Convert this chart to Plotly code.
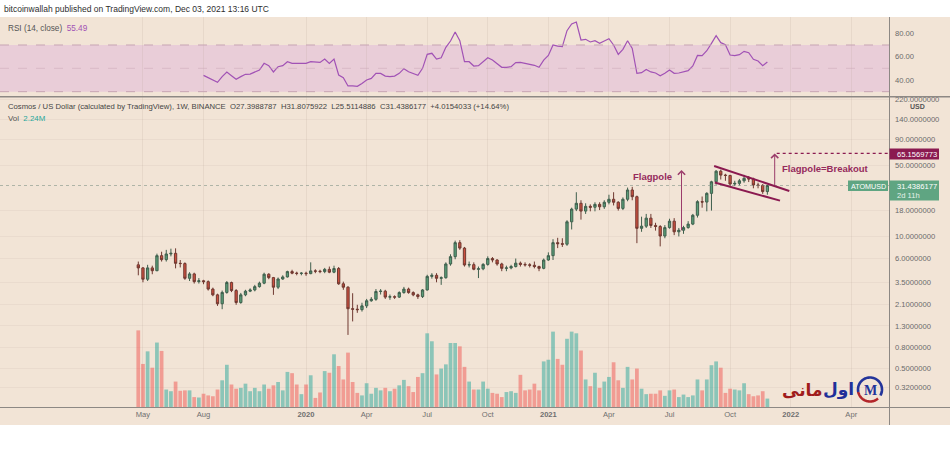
import numpy as np
import pandas as pd
import plotly.graph_objects as go

# ---------------- data (weekly ATOMUSD, BINANCE) ----------------
START_DATE = "2019-04-29"
N_BARS = 136
dates = pd.date_range(START_DATE, periods=N_BARS, freq="7D")

opens = [5.2, 4.85, 3.75, 4.85, 4.55, 6.4, 5.85, 6.65, 6.75, 5.38,
         5.35, 3.83, 4.23, 3.55, 3.62, 3.55, 3.0, 2.63, 2.15, 2.78,
         3.48, 2.9, 2.21, 2.63, 2.86, 2.94, 3.17, 3.43, 4.2, 3.89,
         3.13, 3.77, 3.95, 4.46, 4.3, 4.28, 4.3, 4.26, 4.53, 4.5,
         4.46, 4.69, 4.4, 4.78, 3.38, 3.13, 1.92, 1.9, 1.88, 2.05,
         2.3, 2.38, 2.84, 2.86, 2.5, 2.52, 2.5, 2.77, 3.0, 2.77,
         2.63, 2.53, 2.94, 4.0, 4.1, 3.83, 3.88, 5.3, 6.26, 8.6,
         7.6, 5.18, 5.22, 4.7, 4.75, 5.25, 6.0, 5.8, 5.3, 4.8,
         4.85, 5.0, 5.4, 5.25, 5.2, 5.15, 5.0, 4.8, 5.8, 6.4,
         8.6, 8.4, 8.3, 13.8, 18.4, 21.0, 17.6, 19.6, 19.2, 20.5,
         19.4, 21.5, 23.0, 21.5, 18.7, 23.0, 28.4, 24.4, 11.9, 12.5,
         15.0, 12.7, 12.4, 10.0, 12.1, 14.0, 11.0, 11.4, 12.1, 13.1,
         16.0, 21.8, 21.6, 26.3, 34.2, 43.5, 39.8, 39.5, 32.5, 33.0,
         35.0, 37.0, 36.5, 31.8, 31.5, 27.3988787]

highs = [5.6, 4.95, 5.2, 5.1, 6.7, 7.0, 7.3, 7.5, 7.56, 5.8,
         5.5, 4.4, 4.35, 3.85, 3.7, 3.65, 3.1, 2.7, 2.9, 3.6,
         3.55, 3.0, 2.75, 2.95, 3.05, 3.3, 3.55, 4.35, 4.3, 3.95,
         3.9, 4.1, 4.55, 4.65, 4.45, 4.4, 4.45, 5.5, 4.7, 4.65,
         4.85, 5.0, 5.1, 4.95, 3.55, 3.2, 2.73, 2.1, 2.2, 2.4,
         2.5, 3.0, 3.0, 2.95, 2.65, 2.6, 2.85, 3.15, 3.1, 2.85,
         2.7, 3.0, 4.15, 4.3, 4.3, 4.0, 5.5, 6.6, 9.0, 9.1,
         7.8, 5.6, 5.5, 5.0, 5.4, 6.3, 6.2, 5.9, 5.45, 5.1,
         5.2, 6.0, 5.6, 5.5, 5.4, 5.6, 5.1, 6.0, 6.9, 9.3,
         9.6, 9.5, 14.3, 19.0, 27.0, 22.5, 21.0, 20.5, 21.5, 21.5,
         22.5, 25.5, 27.0, 22.0, 24.0, 30.0, 30.5, 25.0, 15.5, 16.5,
         16.5, 13.5, 12.8, 12.8, 14.8, 15.0, 12.0, 12.6, 14.0, 16.5,
         22.5, 24.5, 27.0, 35.0, 44.6, 45.0, 41.0, 40.0, 35.0, 36.5,
         40.0, 39.0, 37.5, 33.5, 32.5, 31.8075922]

lows = [4.1, 3.5, 3.6, 4.2, 4.5, 5.6, 5.6, 6.3, 4.8, 4.9,
        3.7, 3.6, 3.4, 3.4, 3.35, 2.9, 2.55, 2.05, 1.9, 2.7,
        2.8, 2.1, 2.15, 2.55, 2.8, 2.85, 3.1, 3.35, 3.75, 2.63,
        3.0, 3.7, 3.9, 4.2, 4.1, 4.1, 4.05, 4.2, 4.3, 4.3,
        4.3, 4.3, 4.3, 3.3, 2.95, 1.06, 1.44, 1.75, 1.8, 1.95,
        2.25, 2.3, 2.65, 2.4, 2.35, 2.4, 2.45, 2.7, 2.7, 2.55,
        2.4, 2.45, 2.9, 3.8, 3.5, 3.3, 3.8, 5.1, 5.9, 7.3,
        5.0, 4.9, 4.6, 3.85, 4.6, 5.1, 5.5, 5.1, 4.5, 4.5,
        4.7, 4.9, 5.0, 5.0, 4.9, 4.8, 4.5, 4.7, 5.7, 5.8,
        7.6, 7.8, 8.0, 11.6, 17.6, 14.5, 16.5, 17.5, 17.5, 18.0,
        18.5, 20.5, 20.0, 17.8, 18.0, 22.0, 22.5, 8.5, 11.0, 12.0,
        12.0, 11.3, 7.9, 9.5, 11.8, 10.2, 9.9, 10.5, 11.8, 12.8,
        15.2, 19.0, 17.5, 17.8, 32.0, 36.0, 35.0, 30.6, 31.0, 31.5,
        33.5, 34.0, 29.5, 29.5, 26.0, 25.5114886]

closes = [4.85, 3.75, 4.85, 4.55, 6.4, 5.85, 6.65, 6.75, 5.38, 5.35,
          3.83, 4.23, 3.55, 3.62, 3.55, 3.0, 2.63, 2.15, 2.78, 3.48,
          2.9, 2.21, 2.63, 2.86, 2.94, 3.17, 3.43, 4.2, 3.89, 3.13,
          3.77, 3.95, 4.46, 4.3, 4.28, 4.3, 4.26, 4.53, 4.5, 4.46,
          4.69, 4.4, 4.78, 3.38, 3.13, 1.92, 1.9, 1.88, 2.05, 2.3,
          2.38, 2.84, 2.86, 2.5, 2.52, 2.5, 2.77, 3.0, 2.77, 2.63,
          2.53, 2.94, 4.0, 4.1, 3.83, 3.88, 5.3, 6.26, 8.6, 7.6,
          5.18, 5.22, 4.7, 4.75, 5.25, 6.0, 5.8, 5.3, 4.8, 4.85,
          5.0, 5.4, 5.25, 5.2, 5.15, 5.0, 4.8, 5.8, 6.4, 8.6,
          8.4, 8.3, 13.8, 18.4, 21.0, 17.6, 19.6, 19.2, 20.5, 19.4,
          21.5, 23.0, 21.5, 18.7, 23.0, 28.4, 24.4, 11.9, 12.5, 15.0,
          12.7, 12.4, 10.0, 12.1, 14.0, 11.0, 11.4, 12.1, 13.1, 16.0,
          21.8, 21.6, 26.3, 34.2, 43.5, 39.8, 39.5, 32.5, 33.0, 35.0,
          37.0, 36.5, 31.8, 31.5, 27.4, 31.4386177]

volume_m = [18.5, 10.5, 13.5, 9.6, 15.6, 13.6, 4.4, 4.0, 6.3, 4.1,
            4.2, 4.2, 2.6, 2.5, 3.4, 3.0, 2.8, 4.4, 6.6, 10.3,
            5.6, 4.6, 4.8, 5.8, 4.0, 4.8, 4.0, 5.6, 4.6, 5.4,
            6.2, 4.2, 8.6, 8.3, 5.6, 3.3, 5.6, 7.8, 2.4, 3.7,
            8.8, 8.4, 12.8, 10.0, 6.8, 13.2, 6.2, 3.6, 3.0, 5.9,
            3.4, 4.8, 4.2, 4.8, 4.0, 4.6, 5.4, 6.7, 5.2, 3.8,
            7.4, 8.3, 17.8, 15.9, 8.0, 9.4, 10.4, 15.5, 15.5, 14.7,
            9.8, 6.3, 4.4, 4.4, 6.3, 4.6, 3.6, 3.4, 2.6, 3.8,
            4.0, 3.6, 7.9, 4.2, 4.4, 5.8, 4.2, 11.1, 11.5, 18.2,
            11.7, 10.3, 16.5, 18.2, 17.8, 13.7, 6.8, 5.2, 8.4, 4.8,
            6.3, 7.4, 10.9, 6.6, 4.8, 9.8, 6.8, 9.4, 4.6, 3.3,
            3.4, 3.4, 4.2, 2.9, 4.2, 4.4, 2.6, 3.2, 2.6, 3.0,
            6.8, 4.2, 6.8, 10.2, 11.1, 9.6, 3.6, 4.6, 4.4, 4.2,
            5.9, 3.3, 2.8, 3.0, 4.0, 2.24]

RSI_FIRST_BAR = 14   # RSI(14) starts on the 15th bar
rsi_values = [44.0, 42.0, 40.0, 38.0, 42.9, 46.9, 43.7, 40.6, 42.9, 44.9,
              45.1, 47.1, 48.6, 54.3, 52.3, 46.9, 51.4, 52.3, 55.7, 54.3,
              54.3, 54.0, 54.3, 55.7, 55.7, 55.1, 58.0, 54.3, 58.0, 44.3,
              42.0, 34.9, 34.9, 34.6, 37.1, 40.0, 41.4, 45.7, 45.7, 43.4,
              42.9, 43.4, 45.7, 49.7, 47.1, 45.7, 44.0, 50.0, 62.0, 62.9,
              58.0, 59.1, 68.0, 73.4, 81.1, 73.7, 55.7, 55.7, 52.0, 52.3,
              55.7, 59.1, 57.1, 54.3, 50.9, 50.9, 51.4, 54.9, 55.1, 54.3,
              53.4, 52.6, 50.9, 57.1, 61.1, 70.0, 69.1, 68.6, 82.3, 88.0,
              89.7, 74.3, 74.9, 72.6, 73.7, 71.4, 73.4, 75.4, 70.0, 62.0,
              66.3, 73.7, 67.1, 45.7, 46.3, 49.1, 46.9, 46.0, 43.7, 45.7,
              48.6, 45.7, 46.0, 46.9, 48.0, 52.0, 61.1, 60.9, 65.1, 71.4,
              78.0, 72.0, 70.3, 61.4, 60.9, 61.7, 64.6, 63.4, 57.7, 56.3,
              52.3, 55.49]

tick_dates = ["2019-05-06", "2019-08-05", "2020-01-06", "2020-04-06", "2020-07-06",
              "2020-10-05", "2021-01-04", "2021-04-05", "2021-07-05", "2021-10-04",
              "2022-01-03", "2022-04-04"]
tick_labels = ["May", "Aug", "<b>2020</b>", "Apr", "Jul", "Oct", "<b>2021</b>",
               "Apr", "Jul", "Oct", "<b>2022</b>", "Apr"]
price_ticks = [0.32, 0.5, 0.8, 1.3, 2.1, 3.5, 6, 10, 18, 50, 90, 140, 220]
rsi_ticks = [40, 60, 80]

# drawing (pattern annotation) values
FLAGPOLE_DATE, FLAGPOLE_LOW, FLAGPOLE_HIGH = "2021-07-23", 11.0, 44.7
FLAG_UPPER = (("2021-09-10", 48.9), ("2022-01-01", 27.8))
FLAG_LOWER = (("2021-09-11", 33.7), ("2021-12-18", 22.3))
BREAKOUT_DATE, BREAKOUT_BASE, BREAKOUT_TARGET = "2021-12-10", 30.6, 65.1569773
TARGET_LINE_START = "2021-12-13"

# ---------------- styling ----------------
W, H = 950, 450
PL, PR, PT, PB = 0, 889, 17, 408          # plot area in pixels
SPLIT = 96.7                              # RSI / price separator (px)
X_RANGE = ["2018-10-03 06:00", "2022-05-30 17:00"]
Y_LOG_RANGE = [-0.6946, 2.3724]
RSI_RANGE = [25.7, 94.0]
VOL_RANGE = [0, 74.2]

BEIGE = "#f2e4d6"
BAND = "#e9cdd8"
AXLINE = "#8d8884"
TXT = "#3c3c3c"
AXTXT = "#6a6a6a"
RSI_COLOR = "#a152b5"
MAROON = "#8b1a50"
PINKTXT = "#962a5c"
GREEN_LBL = "#5fa582"
FONT = "Liberation Sans"


def px(x):
    return (x - PL) / (PR - PL)


def py(y):
    return (PB - y) / (PB - PT)


D = py(SPLIT)

vol_colors = ["rgba(38,166,154,0.5)" if c >= o else "rgba(239,83,80,0.5)"
              for o, c in zip(opens, closes)]

fig = go.Figure()
fig.add_trace(go.Bar(x=dates, y=volume_m, marker=dict(color=vol_colors, line=dict(width=0)),
                     xaxis="x", yaxis="y3", hoverinfo="skip", showlegend=False))
fig.add_trace(go.Candlestick(
    x=dates, open=opens, high=highs, low=lows, close=closes,
    increasing=dict(fillcolor="#5a9e78", line=dict(color="#3f5f4d", width=1)),
    decreasing=dict(fillcolor="#cc4f3e", line=dict(color="#6f3931", width=1)),
    whiskerwidth=0, xaxis="x", yaxis="y", showlegend=False, hoverinfo="skip"))
fig.add_trace(go.Scatter(x=dates[RSI_FIRST_BAR:], y=rsi_values, mode="lines",
                         line=dict(color=RSI_COLOR, width=1.2),
                         xaxis="x", yaxis="y2", showlegend=False, hoverinfo="skip"))

axfont = dict(family=FONT, size=7.6, color=AXTXT)

shapes = [
    dict(type="rect", xref="paper", yref="paper", x0=px(0), x1=px(W), y0=py(425), y1=py(17),
         fillcolor=BEIGE, line=dict(width=0), layer="below"),
    dict(type="rect", xref="paper", yref="y2", x0=0, x1=1, y0=30, y1=70,
         fillcolor=BAND, line=dict(width=0), layer="below"),
    dict(type="line", xref="paper", yref="y2", x0=0, x1=1, y0=70, y1=70,
         line=dict(color="#c7a5b3", width=1, dash="dash")),
    dict(type="line", xref="paper", yref="y2", x0=0, x1=1, y0=30, y1=30,
         line=dict(color="#c7a5b3", width=1, dash="dash")),
    dict(type="line", xref="paper", yref="y2", x0=0, x1=1, y0=50, y1=50,
         line=dict(color="rgba(199,165,179,0.45)", width=1, dash="dash")),
    dict(type="line", xref="paper", yref="paper", x0=px(889.5), x1=px(889.5), y0=py(425), y1=py(17),
         line=dict(color=AXLINE, width=1)),
    dict(type="line", xref="paper", yref="paper", x0=0, x1=px(W), y0=D, y1=D,
         line=dict(color=AXLINE, width=1.5)),
    dict(type="line", xref="paper", yref="paper", x0=0, x1=px(W), y0=py(407.5), y1=py(407.5),
         line=dict(color=AXLINE, width=1)),
    # current price dotted line
    dict(type="line", xref="paper", yref="y", x0=0, x1=1,
         y0=closes[-1], y1=closes[-1],
         line=dict(color="rgba(120,140,130,0.55)", width=1, dash="dot")),
    # flag channel
    dict(type="line", xref="x", yref="y", x0=FLAG_UPPER[0][0], x1=FLAG_UPPER[1][0],
         y0=FLAG_UPPER[0][1], y1=FLAG_UPPER[1][1],
         line=dict(color=MAROON, width=2)),
    dict(type="line", xref="x", yref="y", x0=FLAG_LOWER[0][0], x1=FLAG_LOWER[1][0],
         y0=FLAG_LOWER[0][1], y1=FLAG_LOWER[1][1],
         line=dict(color=MAROON, width=2)),
    # target dotted line
    dict(type="line", xref="x", yref="y", x0=TARGET_LINE_START, x1=X_RANGE[1],
         y0=BREAKOUT_TARGET, y1=BREAKOUT_TARGET,
         line=dict(color=MAROON, width=1.3, dash="dot")),
    # price-scale labels
    dict(type="rect", xref="paper", yref="paper", x0=px(848), x1=px(888), y0=py(191), y1=py(180.5),
         fillcolor=GREEN_LBL, line=dict(width=0)),
    dict(type="rect", xref="paper", yref="paper", x0=px(889.5), x1=px(939), y0=py(200.5), y1=py(180.5),
         fillcolor=GREEN_LBL, line=dict(width=0)),
    dict(type="rect", xref="paper", yref="paper", x0=px(889.5), x1=px(939), y0=py(159.5), y1=py(148.5),
         fillcolor=MAROON, line=dict(width=0)),
]

# logo ring (blue upper arc, red lower arc)
cx, cy, r = 870.0, 389.5, 12.0


def arc_path(a0, a1, n=40):
    pts = []
    for a in np.linspace(np.radians(a0), np.radians(a1), n):
        pts.append((px(cx + r * np.cos(a)), py(cy - r * np.sin(a))))
    return "M " + " L ".join(f"{x:.5f},{y:.5f}" for x, y in pts)


shapes.append(dict(type="path", xref="paper", yref="paper", path=arc_path(195, -30),
                   line=dict(color="#23349a", width=2.6)))
shapes.append(dict(type="path", xref="paper", yref="paper", path=arc_path(-48, -168),
                   line=dict(color="#b3262a", width=2.6)))


def note(x, y, text, size=8, color=TXT, xanchor="left", family=FONT, **kw):
    d = dict(xref="paper", yref="paper", x=px(x), y=py(y), text=text, showarrow=False,
             xanchor=xanchor, yanchor="middle", font=dict(size=size, color=color, family=family))
    d.update(kw)
    return d


sp = "&nbsp;"
annotations = [
    note(2, 9, "bitcoinwallah published on TradingView.com, Dec 03, 2021 13:16 UTC", size=8.5, color="#2e2e2e"),
    note(6, 28, f"RSI (14, close) {sp}<span style='color:{RSI_COLOR}'>{rsi_values[-1]:.2f}</span>",
         size=8.2, color="#555555"),
    note(6, 106.5, f"Cosmos / US Dollar (calculated by TradingView), 1W, BINANCE{sp} "
                   f"O{opens[-1]:.7f}{sp} H{highs[-1]:.7f}{sp} L{lows[-1]:.7f}{sp} "
                   f"C{closes[-1]:.7f}{sp} +4.0154033 (+14.64%)", size=7.7, color="#444444"),
    note(6, 118, f"Vol{sp} <span style='color:#26a69a'>{volume_m[-1]:.2f}M</span>", size=7.9,
         color="#555555"),
    note(917, 106.5, "<b>USD</b>", size=7, color="#555555", xanchor="center", bgcolor=BEIGE,
         borderpad=0),
    note(868, 186, "ATOMUSD", size=7.2, color="white", xanchor="center"),
    note(895, 186, f"{closes[-1]:.7f}", size=7.6, color="white"),
    note(895, 195.5, "2d 11h", size=7.6, color="#e6f2ea"),
    note(895, 154, f"{BREAKOUT_TARGET:.7f}", size=7.6, color="white"),
    note(652, 176, "<b>Flagpole</b>", size=9.5, color=PINKTXT, xanchor="center"),
    note(825, 168, "<b>Flagpole=Breakout</b>", size=9.5, color=PINKTXT, xanchor="center"),
    note(838, 389, "<b>اول</b>", size=17, color="#1f2f9a", xanchor="center", family="DejaVu Sans"),
    note(802, 390, "<b>مانی</b>", size=17, color="#a01c1c", xanchor="center", family="DejaVu Sans"),
    note(870, 390, "<b>M</b>", size=14, color="#23349a", xanchor="center", family="Liberation Serif"),
    # arrows
    dict(xref="x", yref="y", axref="x", ayref="y",
         x=FLAGPOLE_DATE, y=np.log10(FLAGPOLE_HIGH), ax=FLAGPOLE_DATE, ay=np.log10(FLAGPOLE_LOW),
         text="", showarrow=True, arrowhead=4, arrowsize=1.4, arrowwidth=1, arrowcolor="#9b3c6b"),
    dict(xref="x", yref="y", axref="x", ayref="y",
         x=BREAKOUT_DATE, y=np.log10(BREAKOUT_TARGET), ax=BREAKOUT_DATE, ay=np.log10(BREAKOUT_BASE),
         text="", showarrow=True, arrowhead=4, arrowsize=1.4, arrowwidth=1, arrowcolor="#9b3c6b"),
]

fig.update_layout(
    width=W, height=H,
    margin=dict(l=PL, r=W - PR, t=PT, b=H - PB, autoexpand=False),
    paper_bgcolor="white", plot_bgcolor=BEIGE,
    showlegend=False, hovermode=False,
    bargap=0.2, boxgap=0.3,
    font=dict(family=FONT, size=8, color=TXT),
    xaxis=dict(type="date", range=X_RANGE, domain=[0, 1], anchor="y",
               tickmode="array", tickvals=tick_dates, ticktext=tick_labels,
               tickfont=dict(family=FONT, size=7.6, color="#6f6f6f"), ticks="",
               showgrid=True, gridcolor="rgba(170,150,135,0.14)", gridwidth=1,
               showline=False, zeroline=False, rangeslider=dict(visible=False)),
    yaxis=dict(type="log", domain=[0, D], range=Y_LOG_RANGE, anchor="x", side="right",
               tickmode="array", tickvals=price_ticks, tickformat=".7f", tickfont=axfont,
               ticks="", ticklabelstandoff=5, showgrid=True, gridcolor="rgba(170,150,135,0.10)",
               zeroline=False, showline=False),
    yaxis2=dict(domain=[D, 1], range=RSI_RANGE, anchor="x", side="right",
                tickmode="array", tickvals=rsi_ticks, tickformat=".2f", tickfont=axfont,
                ticks="", ticklabelstandoff=5, showgrid=False, zeroline=False, showline=False),
    yaxis3=dict(overlaying="y", range=VOL_RANGE, visible=False, showgrid=False),
    shapes=shapes,
    annotations=annotations,
)

fig.write_html("out.html", config={"displayModeBar": False, "staticPlot": True},
               post_script="document.body.style.margin='0';document.body.style.padding='0';")
